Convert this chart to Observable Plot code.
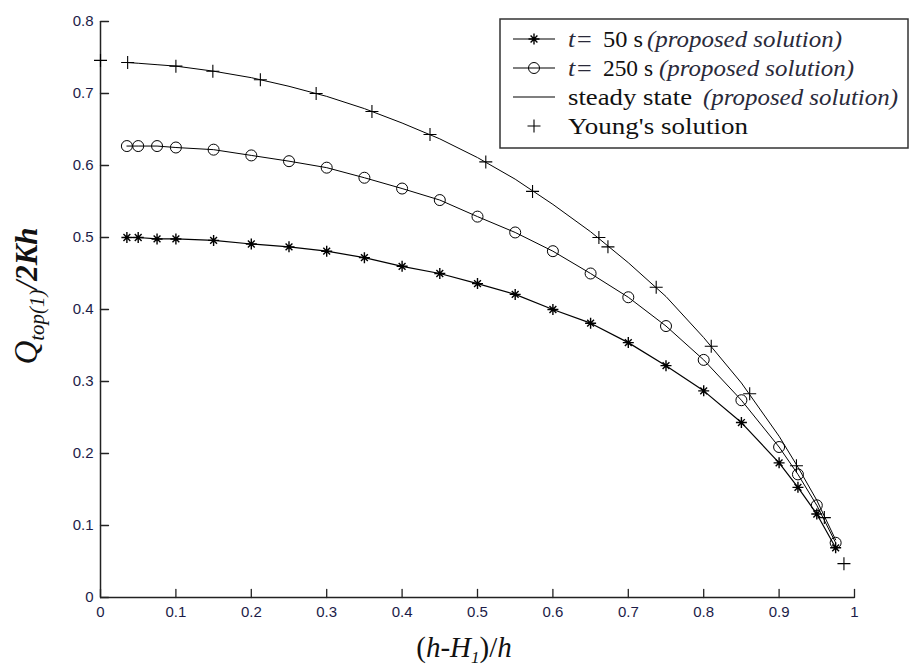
<!DOCTYPE html>
<html><head><meta charset="utf-8">
<script src="https://cdn.jsdelivr.net/npm/d3@7"></script>
<script src="https://cdn.jsdelivr.net/npm/@observablehq/plot@0.6"></script>
<style>body{margin:0;background:#fff}</style>
</head><body><div id="chart"></div>
<script>
// ---- data ----
const xGrid   = [0.035,0.05,0.075,0.1,0.15,0.2,0.25,0.3,0.35,0.4,0.45,0.5,0.55,0.6,0.65,0.7,0.75,0.8,0.85,0.9,0.925,0.95,0.975];
const q50     = [0.500,0.500,0.498,0.498,0.496,0.491,0.487,0.481,0.472,0.460,0.450,0.436,0.421,0.400,0.381,0.354,0.322,0.287,0.243,0.187,0.153,0.116,0.069];
const q250    = [0.627,0.627,0.627,0.625,0.622,0.614,0.606,0.597,0.583,0.568,0.552,0.529,0.507,0.481,0.450,0.417,0.377,0.330,0.274,0.209,0.171,0.128,0.076];
const qSteady = [0.743,0.742,0.740,0.738,0.731,0.722,0.710,0.696,0.679,0.659,0.637,0.611,0.581,0.546,0.508,0.465,0.418,0.361,0.298,0.224,0.181,0.135,0.080];
const youngX  = [0.0,0.036,0.100,0.149,0.212,0.286,0.360,0.437,0.511,0.573,0.661,0.673,0.737,0.810,0.861,0.923,0.960,0.986];
const youngY  = [0.746,0.743,0.738,0.731,0.719,0.700,0.675,0.643,0.605,0.564,0.500,0.487,0.431,0.349,0.283,0.183,0.111,0.047];
const xTicks = [0,0.1,0.2,0.3,0.4,0.5,0.6,0.7,0.8,0.9,1];
const xTickLabels = ["0","0.1","0.2","0.3","0.4","0.5","0.6","0.7","0.8","0.9","1"];
const yTicks = [0,0.1,0.2,0.3,0.4,0.5,0.6,0.7,0.8];
const yTickLabels = ["0","0.1","0.2","0.3","0.4","0.5","0.6","0.7","0.8"];
const legendItems = ["t50","t250","steady","young"];

const s50 = xGrid.map((x,i)=>({x, y:q50[i]}));
const s250 = xGrid.map((x,i)=>({x, y:q250[i]}));
const sSteady = xGrid.map((x,i)=>({x, y:qSteady[i]}));
const sYoung = youngX.map((x,i)=>({x, y:youngY[i]}));

// custom marker shapes (MATLAB-like)
const starSym = {draw(c, size){ const r=Math.sqrt(size/Math.PI); const d=r*0.62;
  c.moveTo(0,-r);c.lineTo(0,r);c.moveTo(-r,0);c.lineTo(r,0);
  c.moveTo(-d,-d);c.lineTo(d,d);c.moveTo(-d,d);c.lineTo(d,-d);}};
const plusSym = {draw(c, size){ const r=Math.sqrt(size/Math.PI);
  c.moveTo(0,-r);c.lineTo(0,r);c.moveTo(-r,0);c.lineTo(r,0);}};
const tickShape = {draw(c, l){ c.moveTo(0,0); c.lineTo(0,-l); }};

const W=911, H=667, ML=100, MR=57, MT=21, MB=70;

const chart = Plot.plot({
  width: W, height: H,
  marginLeft: ML, marginRight: MR, marginTop: MT, marginBottom: MB,
  style: {fontFamily: "Liberation Sans, Arial, sans-serif", fontSize: "15px", color: "#1c1c48", background: "#fff"},
  x: {domain: [0,1]},
  y: {domain: [0,0.8]},
  marks: [
    Plot.axisX({ticks: xTicks, tickFormat: (d,i)=>xTickLabels[i], tickSize: 0, tickPadding: 9, label: null}),
    Plot.axisY({ticks: yTicks, tickFormat: (d,i)=>yTickLabels[i], tickSize: 0, tickPadding: 7, label: null}),
    Plot.vector(xTicks, {x: d=>d, y: 0, length: 8, rotate: 0, anchor: "start", shape: tickShape, stroke: "#222", strokeWidth: 1.3}),
    Plot.vector(yTicks, {x: 0, y: d=>d, length: 8, rotate: 90, anchor: "start", shape: tickShape, stroke: "#222", strokeWidth: 1.3}),
    Plot.ruleY([0], {stroke: "#222", strokeWidth: 1.5}),
    Plot.ruleX([0], {stroke: "#222", strokeWidth: 1.5}),
    Plot.line(sSteady, {x:"x", y:"y", stroke:"black", strokeWidth: 1}),
    Plot.line(s250, {x:"x", y:"y", stroke:"black", strokeWidth: 1}),
    Plot.line(s50, {x:"x", y:"y", stroke:"black", strokeWidth: 1.2}),
    Plot.dot(s250, {x:"x", y:"y", r: 5.5, stroke:"black", fill:"none", strokeWidth: 1}),
    Plot.dot(s50, {x:"x", y:"y", symbol: starSym, r: 5.5, stroke:"black", strokeWidth: 1.4}),
    Plot.dot(sYoung, {x:"x", y:"y", symbol: plusSym, r: 6.5, stroke:"black", strokeWidth: 1.1})
  ]
});
document.getElementById("chart").appendChild(chart);

const svg = d3.select(chart);
const serif = "Liberation Serif, Times New Roman, serif";

// x axis title: (h-H1)/h
const xl = svg.append("text").attr("x", 464).attr("y", 657).attr("text-anchor","middle")
  .attr("font-family", serif).attr("font-size", 29).attr("fill", "#111");
xl.append("tspan").text("(");
xl.append("tspan").attr("font-style","italic").text("h");
xl.append("tspan").text("-");
xl.append("tspan").attr("font-style","italic").text("H");
xl.append("tspan").attr("font-style","italic").attr("font-size",17).attr("dy",6).text("1");
xl.append("tspan").attr("dy",-6).text(")/");
xl.append("tspan").attr("font-style","italic").text("h");

// y axis title: Q_top(1)/2Kh
const yl = svg.append("text").attr("transform","translate(37,296) rotate(-90)").attr("text-anchor","middle")
  .attr("font-family", serif).attr("font-size", 31).attr("fill", "#111").attr("font-style","italic");
yl.append("tspan").attr("font-size",33).text("Q");
yl.append("tspan").attr("font-size",21).attr("dy",7).text("top(1)");
yl.append("tspan").attr("dy",-7).text("/");
yl.append("tspan").attr("font-weight","bold").text("2Kh");

// legend box
const lg = svg.append("g").attr("text-anchor","start");
lg.append("rect").attr("x",500).attr("y",19).attr("width",408).attr("height",129)
  .attr("fill","#fff").attr("stroke","#333").attr("stroke-width",1.5);
const rowY = [39,68,97,126];
const lx0=513, lx1=555, lm=534;
legendItems.forEach((k,i)=>{
  const y=rowY[i];
  if (k!=="young") lg.append("line").attr("x1",lx0).attr("x2",lx1).attr("y1",y).attr("y2",y).attr("stroke","black").attr("stroke-width",1.1);
  if (k==="t50") { const r=5.5, d=r*0.62;
    lg.append("path").attr("d",`M${lm},${y-r}V${y+r}M${lm-r},${y}H${lm+r}M${lm-d},${y-d}L${lm+d},${y+d}M${lm-d},${y+d}L${lm+d},${y-d}`).attr("stroke","black").attr("stroke-width",1.4);
  }
  if (k==="t250") lg.append("circle").attr("cx",lm).attr("cy",y).attr("r",5.5).attr("fill","none").attr("stroke","black");
  if (k==="young") { const r=6.5;
    lg.append("path").attr("d",`M${lm},${y-r}V${y+r}M${lm-r},${y}H${lm+r}`).attr("stroke","black").attr("stroke-width",1.1);
  }
});
// legend text pieces: [row, text, x, width, italic]
function piece(row, str, x, w, italic){
  const t = lg.append("text").attr("x",x).attr("y",rowY[row]).attr("dy","0.33em")
    .attr("text-anchor","start").attr("font-family",serif).attr("font-size",23)
    .attr("fill", italic ? "#2a2a3a" : "#111")
    .attr("textLength", w).attr("lengthAdjust","spacingAndGlyphs").text(str);
  if (italic) t.attr("font-style","italic");
}
piece(0, "t=", 568, 25, true);
piece(0, "50 s", 603, 40, false);
piece(0, "(proposed solution)", 647, 195, true);
piece(1, "t=", 568, 25, true);
piece(1, "250 s", 603, 50, false);
piece(1, "(proposed solution)", 659, 195, true);
piece(2, "steady state", 568, 124, false);
piece(2, "(proposed solution)", 703, 195, true);
piece(3, "Young's solution", 568, 180, false);
</script>
</body></html>
